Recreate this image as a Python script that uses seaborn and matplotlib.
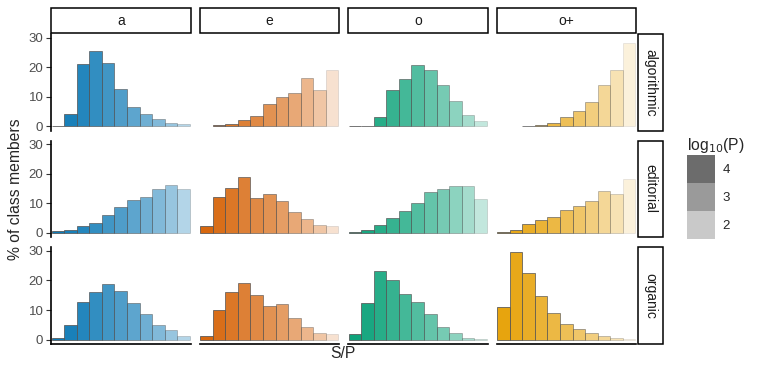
import numpy as np
import pandas as pd
import matplotlib
matplotlib.use("Agg")
import matplotlib.pyplot as plt
from matplotlib.patches import Rectangle, Patch
import seaborn as sns

# ---- data -------------------------------------------------------------
bins = list(range(11))  # S/P bins
classes = ["algorithmic", "editorial", "organic"]
vowels = ["a", "e", "o", "o+"]
vowel_colors = ["#0072B2", "#D55E00", "#009E73", "#E69F00"]

# % of class members per S/P bin (None = empty bin)
algorithmic_a = [0.15, 4.1, 21.0, 25.6, 21.4, 12.7, 6.4, 4.1, 2.3, 1.1, 0.8]
algorithmic_e = [None, 0.4, 0.9, 2.1, 3.4, 7.7, 9.9, 11.4, 16.4, 12.2, 19.0]
algorithmic_o = [0.1, 0.15, 3.1, 12.4, 16.0, 20.7, 19.0, 14.0, 8.6, 3.7, 1.7]
algorithmic_oplus = [None, None, 0.2, 0.5, 1.2, 3.1, 5.2, 8.1, 13.8, 18.9, 28.3]

editorial_a = [0.55, 0.9, 2.2, 3.2, 6.1, 8.8, 11.0, 12.3, 14.9, 16.3, 15.0]
editorial_e = [2.4, 12.1, 15.2, 18.9, 11.9, 13.0, 10.7, 7.1, 4.6, 2.6, 2.2]
editorial_o = [0.2, 1.0, 2.8, 5.0, 7.3, 10.1, 13.7, 15.0, 15.7, 16.0, 11.4]
editorial_oplus = [0.2, 1.0, 2.9, 4.3, 5.4, 7.7, 9.0, 10.9, 14.2, 13.2, 18.2]

organic_a = [0.4, 5.1, 12.8, 16.1, 18.7, 16.3, 12.5, 8.6, 5.0, 3.4, 1.1]
organic_e = [1.1, 10.0, 16.0, 19.0, 15.0, 11.5, 12.0, 7.3, 4.1, 2.1, 1.8]
organic_o = [1.8, 12.2, 23.2, 20.0, 15.3, 12.7, 8.7, 4.1, 2.2, 0.4, 0.1]
organic_oplus = [10.9, 29.7, 22.6, 14.9, 9.0, 5.2, 3.7, 2.1, 1.2, 0.7, 0.3]

# log10(P) per bin, by vowel
logp_a = [4.2, 4.05, 3.9, 3.7, 3.5, 3.3, 3.1, 2.85, 2.6, 2.3, 1.9]
logp_e = [4.2, 4.05, 3.85, 3.65, 3.45, 3.25, 3.0, 2.75, 2.45, 2.1, 1.5]
logp_o = [4.2, 4.05, 3.85, 3.65, 3.45, 3.25, 3.0, 2.75, 2.45, 2.1, 1.7]
logp_oplus = [4.2, 4.05, 3.85, 3.65, 3.45, 3.2, 2.95, 2.65, 2.3, 1.9, 1.35]

pct = {
    ("algorithmic", "a"): algorithmic_a, ("algorithmic", "e"): algorithmic_e,
    ("algorithmic", "o"): algorithmic_o, ("algorithmic", "o+"): algorithmic_oplus,
    ("editorial", "a"): editorial_a, ("editorial", "e"): editorial_e,
    ("editorial", "o"): editorial_o, ("editorial", "o+"): editorial_oplus,
    ("organic", "a"): organic_a, ("organic", "e"): organic_e,
    ("organic", "o"): organic_o, ("organic", "o+"): organic_oplus,
}
logp = {"a": logp_a, "e": logp_e, "o": logp_o, "o+": logp_oplus}

rows = []
for (cls, v), vals in pct.items():
    for b, p, lp in zip(bins, vals, logp[v]):
        if p is not None:
            rows.append({"cls": cls, "vowel": v, "bin": b, "pct": p, "logP": lp})
df = pd.DataFrame(rows)

lp_lo, lp_hi = 1.2, 4.4  # alpha scale limits


def alpha_of(lp):
    # ggplot-like scale_alpha: range 0.1 .. 1
    return 0.1 + 0.9 * (lp - lp_lo) / (lp_hi - lp_lo)


# ---- plot -------------------------------------------------------------
sns.set_style("white")
plt.rcParams["font.family"] = ["Liberation Sans", "DejaVu Sans"]

W, H = 764, 373
fig, axes = plt.subplots(3, 4, figsize=(W / 100, H / 100), dpi=100)
fig.subplots_adjust(left=51 / W, right=636 / W, top=1 - 34 / H, bottom=1 - 344 / H,
                    wspace=9 / 139.5, hspace=10 / 97)

panel_w, panel_h = 139.5, 97.0
for i, cls in enumerate(classes):
    for j, v in enumerate(vowels):
        ax = axes[i, j]
        d = df[(df.cls == cls) & (df.vowel == v)]
        sns.barplot(data=d, x="bin", y="pct", native_scale=True, width=1,
                    color=vowel_colors[j], saturation=1, edgecolor="#555555",
                    linewidth=0.6, errorbar=None, ax=ax)
        for patch, lp in zip(ax.patches, d["logP"]):
            patch.set_alpha(alpha_of(lp))

        ax.set_xlim(-0.56, 10.56)
        ax.set_ylim(-1.485, 31.185)
        ax.set_xlabel("")
        ax.set_ylabel("")
        ax.set_xticks([])
        for s in ["top", "right"]:
            ax.spines[s].set_visible(False)
        ax.spines["left"].set_visible(j == 0)
        ax.spines["bottom"].set_visible(i == 2)
        for s in ["left", "bottom"]:
            ax.spines[s].set_color("black")
            ax.spines[s].set_linewidth(1.2)
        if j == 0:
            ax.set_yticks([0, 10, 20, 30])
            ax.tick_params(axis="y", left=True, length=3.5, width=0.8, color="#333333",
                           labelsize=9.5, labelcolor="#4D4D4D", pad=2)
        else:
            ax.set_yticks([])

        # facet strips
        if i == 0:
            ax.add_patch(Rectangle((0, 1 + 1 / panel_h), 1, 25 / panel_h,
                                   transform=ax.transAxes, clip_on=False,
                                   facecolor="white", edgecolor="black", linewidth=1.1))
            ax.text(0.5, 1 + 13.5 / panel_h, v, transform=ax.transAxes,
                    ha="center", va="center", fontsize=10, color="#1A1A1A")
        if j == 3:
            ax.add_patch(Rectangle((1 + 2 / panel_w, 0), 25 / panel_w, 1,
                                   transform=ax.transAxes, clip_on=False,
                                   facecolor="white", edgecolor="black", linewidth=1.1))
            ax.text(1 + 14.5 / panel_w, 0.5, cls, transform=ax.transAxes, rotation=-90,
                    ha="center", va="center", fontsize=10, color="#1A1A1A")

fig.text(16 / W, 1 - 189 / H, "% of class members", rotation=90,
         ha="center", va="center", fontsize=11.3)
fig.text(343 / W, 1 - 353 / H, "S/P", ha="center", va="center", fontsize=11.3)

# alpha legend
handles = [Patch(facecolor="#595959", alpha=alpha_of(k), edgecolor="none") for k in [4, 3, 2]]
leg = fig.legend(handles, ["4", "3", "2"], title=r"log$_{10}$(P)",
                 loc="upper left", bbox_to_anchor=(687 / W, 1 - 136 / H),
                 frameon=False, fontsize=9.5, title_fontsize=11.3,
                 handlelength=2.1, handleheight=2.89, labelspacing=0,
                 handletextpad=0.6, borderpad=0, borderaxespad=0)
leg._legend_box.align = "left"

fig.savefig("out.png", dpi=100)
